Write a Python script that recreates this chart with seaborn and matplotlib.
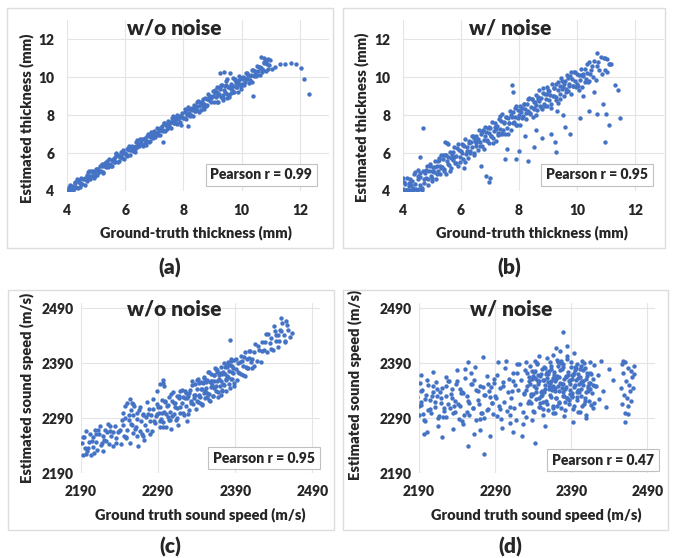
import pandas as pd
import seaborn as sns
import matplotlib.pyplot as plt
from matplotlib.patches import Rectangle

# (a) thickness, w/o noise  (ground truth -> estimate, mm)
a_x = [4.01, 4.04, 4.09, 4.11, 4.16, 4.19, 4.23, 4.27, 4.29, 4.34, 4.38, 4.41, 4.44, 4.49, 4.52, 4.55, 4.61, 4.63, 4.67, 4.71,
       4.74, 4.79, 4.81, 4.85, 4.88, 4.93, 4.95, 4.99, 4.47, 4.72,
       5.02, 5.06, 5.08, 5.13, 5.17, 5.2, 5.24, 5.27, 5.31, 5.35, 5.37, 5.42, 5.45, 5.48, 5.53, 5.56, 5.59, 5.64, 5.66, 5.7,
       5.74, 5.77, 5.82, 5.84, 5.88, 5.92, 5.96, 5.99, 5.3, 5.61,
       6.01, 6.05, 6.07, 6.12, 6.14, 6.19, 6.23, 6.26, 6.3, 6.33, 6.38, 6.41, 6.43, 6.48, 6.51, 6.55, 6.58, 6.62, 6.65, 6.69,
       6.73, 6.76, 6.8, 6.83, 6.87, 6.9, 6.94, 6.97, 6.36, 6.71,
       7.02, 7.04, 7.08, 7.12, 7.15, 7.18, 7.22, 7.25, 7.29, 7.32, 7.36, 7.39, 7.42, 7.47, 7.49, 7.53, 7.57, 7.6, 7.63, 7.68,
       7.71, 7.75, 7.78, 7.81, 7.85, 7.89, 7.91, 7.96, 7.3, 7.65,
       8.01, 8.04, 8.08, 8.11, 8.15, 8.19, 8.21, 8.26, 8.28, 8.33, 8.36, 8.39, 8.43, 8.46, 8.5, 8.53, 8.57, 8.6, 8.64, 8.67,
       8.71, 8.74, 8.78, 8.82, 8.85, 8.88, 8.92, 8.96, 8.4, 8.7,
       9.02, 9.05, 9.09, 9.12, 9.16, 9.19, 9.22, 9.27, 9.29, 9.33, 9.37, 9.4, 9.43, 9.47, 9.51, 9.54, 9.57, 9.61, 9.64, 9.68,
       9.71, 9.75, 9.78, 9.82, 9.85, 9.89, 9.92, 9.96, 9.99, 9.3, 9.55, 9.8,
       10.01, 10.05, 10.08, 10.12, 10.16, 10.19, 10.23, 10.27, 10.3, 10.34, 10.37, 10.41, 10.45, 10.48, 10.52, 10.56,
       10.59, 10.63, 10.67, 10.7, 10.74, 10.78, 10.82, 10.86, 10.9, 10.95, 10.99,
       7.3, 7.9, 8.16, 9.25, 9.4, 9.6, 9.5, 9.15, 9.45, 9.7, 9.9, 9.35, 9.65, 10.65, 10.75, 10.85, 10.4, 11.05, 11.15,
       11.3, 11.5, 11.7, 11.85, 12.05, 12.15, 12.3]
a_y = [4.06, 4.02, 4.31, 4.07, 4.28, 4.01, 4.23, 4.44, 4.18, 4.62, 4.18, 4.49, 4.42, 4.69, 4.38, 4.65, 4.34, 4.66, 4.82, 4.63,
       4.79, 4.61, 5.03, 4.81, 5.0, 4.68, 4.95, 5.16, 4.36, 5.0,
       4.82, 5.14, 5.06, 5.33, 5.03, 5.3, 4.97, 5.3, 5.46, 5.27, 5.42, 5.24, 5.67, 5.44, 5.65, 5.31, 5.59, 5.81, 5.55, 5.98,
       5.54, 5.85, 5.8, 6.04, 5.74, 6.02, 5.69, 6.02, 5.45, 5.53,
       5.91, 6.21, 5.85, 6.18, 6.39, 6.14, 6.35, 6.09, 6.32, 6.05, 6.57, 6.32, 6.52, 6.35, 6.75, 6.54, 6.72, 6.39, 6.72, 6.54,
       6.63, 6.92, 6.58, 6.89, 7.12, 6.85, 7.06, 6.8, 6.38, 6.43,
       7.07, 6.86, 7.3, 7.08, 7.27, 6.93, 7.22, 7.42, 7.18, 7.6, 7.16, 7.47, 7.4, 7.67, 7.35, 7.63, 7.3, 7.63, 7.78, 7.6,
       7.76, 7.57, 8.0, 7.77, 7.97, 7.64, 7.91, 8.13, 7.19, 7.93,
       7.84, 8.18, 7.77, 8.13, 8.4, 8.08, 8.3, 8.01, 8.25, 7.94, 8.54, 8.23, 8.49, 8.25, 8.74, 8.47, 8.69, 8.27, 8.67, 8.44,
       8.54, 8.88, 8.47, 8.84, 9.1, 8.77, 9.01, 8.71, 8.37, 8.31,
       9.0, 8.67, 9.3, 8.94, 9.21, 8.67, 9.08, 9.38, 8.96, 9.58, 8.9, 9.34, 9.21, 9.58, 9.1, 9.48, 8.96, 9.44, 9.64, 9.32,
       9.55, 9.23, 9.85, 9.5, 9.76, 9.23, 9.64, 9.93, 9.52, 9.56, 9.04, 9.66,
       9.64, 9.99, 9.57, 9.94, 10.21, 9.88, 10.12, 9.82, 10.07, 9.75, 10.35, 10.05, 10.31, 10.07, 10.56, 10.3,
       10.51, 10.1, 10.5, 10.27, 10.37, 10.72, 10.31, 10.68, 10.95, 10.64, 10.88,
       6.6, 7.45, 7.42, 10.2, 10.25, 10.2, 9.9, 9.45, 9.8, 9.95, 10.05, 8.8, 9.15, 11.05, 11.0, 10.9, 9.0, 10.4, 10.55,
       10.7, 10.7, 10.72, 10.68, 10.5, 9.9, 9.1]
a_x2 = [4.06, 4.13, 4.2, 4.26, 4.31, 4.4, 4.45, 4.58, 4.65, 4.69, 4.77, 4.83, 4.91, 4.97, 5.04, 5.11, 5.19, 5.23, 5.33, 5.39,
        5.44, 5.5, 5.57, 5.63, 5.69, 5.76, 5.8, 5.86, 5.94, 6.03, 6.1, 6.17, 6.22, 6.29, 6.35, 6.42, 6.46, 6.53, 6.6, 6.67,
        6.74, 6.78, 6.85, 6.92, 6.99, 7.06, 7.13, 7.2, 7.24, 7.34, 7.4, 7.45, 7.51, 7.59, 7.66, 7.73, 7.77, 7.84, 7.93, 7.99,
        8.06, 8.13, 8.17, 8.24, 8.31, 8.38, 8.45, 8.52, 8.59, 8.66, 8.72, 8.8, 8.87, 8.94, 9.0, 9.07, 9.14, 9.2, 9.25, 9.35,
        9.42, 9.49, 9.56, 9.63, 9.69, 9.76, 9.84, 9.9, 9.97, 10.04, 10.1, 10.18, 10.25, 10.32, 10.4, 10.47, 10.54, 10.62,
        10.69, 10.76, 10.84, 10.92]
a_y2 = [4.19, 4.03, 4.18, 4.5, 4.22, 4.58, 4.19, 4.65, 4.66, 4.54, 5.04, 4.78, 5.07, 4.78, 5.14, 5.0, 5.41, 4.99, 5.37, 5.58,
        5.37, 5.33, 5.69, 5.62, 5.94, 5.89, 5.59, 5.84, 6.18, 5.94, 6.28, 5.91, 6.29, 6.3, 6.2, 6.69, 6.41, 6.69, 6.41, 6.77,
        6.63, 7.0, 6.61, 6.96, 7.18, 6.99, 6.96, 7.32, 7.23, 7.59, 7.53, 7.24, 7.49, 7.83, 7.57, 7.91, 7.51, 7.91, 7.94, 7.84,
        8.33, 8.02, 8.31, 7.96, 8.38, 8.2, 8.66, 8.18, 8.59, 8.84, 8.59, 8.55, 8.96, 8.88, 9.28, 9.16, 8.69, 9.03, 9.46, 9.04,
        9.51, 8.9, 9.46, 9.42, 9.22, 9.92, 9.49, 9.86, 9.39, 9.91, 9.72, 10.19, 9.71, 10.12, 10.38, 10.14, 10.09, 10.51,
        10.43, 10.81, 10.75, 10.42]

# (b) thickness, w/ noise
b_x = [4.01, 4.04, 4.07, 4.12, 4.14, 4.18, 4.22, 4.25, 4.28, 4.32, 4.36, 4.39, 4.42, 4.46, 4.5, 4.53, 4.57, 4.6, 4.64, 4.68,
       4.71, 4.75, 4.78, 4.82, 4.85, 4.89, 4.92, 4.96, 4.99, 4.55, 4.0, 4.7, 4.6,
       5.01, 5.03, 5.07, 5.1, 5.13, 5.16, 5.2, 5.22, 5.26, 5.29, 5.32, 5.35, 5.39, 5.41, 5.45, 5.48, 5.51, 5.54, 5.58, 5.61,
       5.64, 5.67, 5.71, 5.74, 5.77, 5.8, 5.84, 5.87, 5.9, 5.94, 5.97, 5.25, 5.5, 5.55, 5.45,
       6.02, 6.05, 6.08, 6.11, 6.15, 6.18, 6.21, 6.25, 6.27, 6.31, 6.34, 6.37, 6.4, 6.44, 6.47, 6.5, 6.53, 6.56, 6.6, 6.63,
       6.66, 6.69, 6.73, 6.76, 6.79, 6.82, 6.86, 6.89, 6.92, 6.95, 6.98, 6.45, 6.85, 6.95, 7.0, 6.7, 6.1,
       7.01, 7.04, 7.07, 7.1, 7.14, 7.17, 7.2, 7.23, 7.27, 7.3, 7.33, 7.36, 7.39, 7.43, 7.46, 7.49, 7.52, 7.56, 7.59, 7.62,
       7.65, 7.69, 7.72, 7.75, 7.78, 7.82, 7.85, 7.88, 7.91, 7.95, 7.98, 7.4, 7.75, 7.78, 7.5, 7.6, 7.9,
       8.02, 8.05, 8.08, 8.11, 8.15, 8.18, 8.21, 8.24, 8.28, 8.31, 8.34, 8.37, 8.4, 8.44, 8.47, 8.5, 8.53, 8.57, 8.6, 8.63,
       8.66, 8.7, 8.73, 8.76, 8.79, 8.83, 8.86, 8.89, 8.92, 8.95, 8.98, 8.55, 8.0, 8.3, 8.5, 8.8, 8.2, 8.6,
       9.01, 9.05, 9.08, 9.12, 9.15, 9.19, 9.22, 9.26, 9.29, 9.33, 9.36, 9.4, 9.43, 9.47, 9.5, 9.54, 9.57, 9.61, 9.64, 9.68,
       9.71, 9.75, 9.78, 9.82, 9.85, 9.89, 9.92, 9.96, 9.99, 9.45, 9.1, 9.24, 9.28, 9.6, 9.75, 9.3, 9.5,
       10.02, 10.06, 10.1, 10.14, 10.18, 10.22, 10.26, 10.3, 10.34, 10.38, 10.42, 10.46, 10.5, 10.55, 10.6, 10.64,
       10.68, 10.72, 10.77, 10.82, 10.87, 10.92, 10.97, 11.03, 11.1, 11.18,
       10.7, 11.3, 11.4, 11.48, 10.97, 11.1, 11.0, 10.7, 10.4, 10.1, 10.2, 10.6, 10.9, 11.15, 11.05, 10.95]
b_y = [4.11, 4.04, 4.39, 4.03, 4.69, 4.06, 4.24, 4.65, 4.05, 4.52, 4.16, 4.87, 4.37, 4.08, 4.77, 5.13, 4.32, 4.72, 4.14, 5.03,
       4.41, 4.97, 4.7, 5.32, 4.33, 5.04, 5.3, 4.78, 5.04, 4.13, 4.7, 7.3, 5.8,
       4.71, 5.25, 4.99, 5.6, 4.61, 5.31, 5.58, 5.04, 5.31, 4.87, 5.9, 5.25, 5.69, 5.06, 5.9, 4.88, 5.59, 5.79, 5.36, 6.03,
       5.74, 5.22, 6.03, 5.62, 6.32, 5.5, 5.86, 6.27, 5.32, 6.14, 5.77, 5.73, 6.55, 6.45, 6.6,
       6.5, 6.0, 5.7, 6.38, 6.75, 5.93, 6.33, 5.75, 6.62, 6.01, 6.56, 6.29, 6.9, 5.92, 6.62, 6.88, 6.35, 6.61, 6.18, 7.21,
       6.56, 6.99, 6.38, 7.21, 6.19, 6.9, 7.11, 6.67, 7.34, 7.05, 6.53, 6.77, 4.8, 4.5, 4.7, 5.3, 5.2,
       7.33, 6.92, 7.62, 6.8, 7.16, 7.57, 6.62, 7.43, 7.07, 7.78, 7.28, 6.98, 7.66, 8.03, 7.21, 7.61, 7.02, 7.91, 7.29, 7.84,
       7.57, 8.19, 7.2, 7.9, 8.16, 7.64, 7.9, 7.46, 8.49, 7.85, 8.28, 7.05, 9.6, 9.2, 5.7, 6.2, 5.7,
       8.47, 7.45, 8.16, 8.36, 7.93, 8.6, 8.31, 7.79, 8.6, 8.19, 8.89, 8.07, 8.42, 8.84, 7.89, 8.7, 8.33, 9.05, 8.55, 8.25,
       8.93, 9.3, 8.48, 8.88, 8.29, 9.18, 8.56, 9.11, 8.84, 9.45, 8.46, 8.7, 6.1, 5.6, 6.3, 6.8, 6.9, 7.2,
       9.29, 8.77, 9.03, 8.6, 9.63, 8.99, 9.42, 8.81, 9.64, 8.63, 9.34, 9.55, 9.11, 9.79, 9.5, 8.99, 9.79, 9.39, 10.09, 9.28,
       9.63, 10.05, 9.1, 9.92, 9.55, 10.27, 9.77, 9.48, 10.16, 9.95, 7.0, 6.6, 6.05, 7.35, 7.0, 8.2, 8.0,
       9.52, 10.08, 9.82, 10.44, 9.46, 10.17, 10.44, 9.92, 10.19, 9.76, 10.8, 10.16, 10.6, 10.0, 10.85, 9.84,
       10.56, 10.77, 10.35, 11.04, 10.17, 11.02, 10.37, 10.93, 10.7, 10.68,
       11.25, 9.6, 9.3, 7.84, 6.58, 7.5, 8.05, 8.05, 8.2, 7.85, 9.0, 9.2, 8.6, 10.7, 10.25, 11.0]
b_x2 = [4.05, 4.1, 4.16, 4.21, 4.27, 4.34, 4.41, 4.47, 4.52, 4.59, 4.66, 4.73, 4.8, 4.87, 4.93, 5.0, 5.05, 5.11, 5.18, 5.24,
        5.31, 5.37, 5.43, 5.49, 5.56, 5.62, 5.68, 5.75, 5.82, 5.88, 5.95, 6.01, 6.07, 6.13, 6.2, 6.26, 6.32, 6.39, 6.46, 6.52,
        6.58, 6.65, 6.71, 6.78, 6.84, 6.91, 6.97, 7.03, 7.09, 7.16, 7.22, 7.29, 7.35, 7.41, 7.48, 7.54, 7.61, 7.67, 7.74, 7.8,
        7.86, 7.93, 7.99, 8.05, 8.12, 8.18, 8.25, 8.31, 8.38, 8.44, 8.51, 8.57, 8.64, 8.7, 8.77, 8.83, 8.9, 8.96, 9.03, 9.09,
        9.16, 9.22, 9.29, 9.35, 9.42, 9.48, 9.55, 9.61, 9.68, 9.74, 9.81, 9.87, 9.94, 10.0, 10.07, 10.13, 10.2, 10.27, 10.33,
        10.4, 10.47]
b_y2 = [4.47, 4.03, 4.06, 4.41, 4.32, 4.04, 4.99, 4.07, 4.64, 4.94, 4.06, 4.65, 5.08, 4.65, 5.43, 4.53, 5.05, 5.27, 4.88, 5.62,
        5.19, 5.91, 5.17, 5.91, 5.41, 5.07, 5.88, 5.8, 5.49, 6.46, 5.55, 6.13, 6.42, 5.53, 6.12, 6.54, 6.1, 6.89, 5.99, 6.52,
        6.74, 6.35, 7.09, 6.66, 7.38, 6.65, 7.39, 6.88, 6.54, 7.36, 7.27, 6.96, 7.93, 7.01, 7.6, 7.89, 7.01, 7.59, 8.02, 7.58,
        8.36, 7.46, 7.99, 8.21, 7.82, 8.56, 8.13, 8.85, 8.12, 8.86, 8.36, 8.02, 8.84, 8.75, 8.44, 9.41, 8.5, 9.08, 9.28, 8.39,
        8.98, 9.4, 8.97, 9.75, 8.85, 9.38, 9.61, 9.21, 9.96, 9.52, 10.25, 9.51, 10.26, 9.65, 9.32, 10.13, 10.05, 9.74, 10.71,
        9.8, 10.39]

# (c) sound speed, w/o noise (m/s)
c_x = [2191, 2192, 2194, 2195, 2197, 2198, 2200, 2202, 2203, 2205, 2206, 2208, 2210, 2211, 2213, 2214, 2216, 2218,
       2219, 2221, 2222, 2224, 2226, 2227, 2229, 2231, 2232, 2234, 2236, 2238, 2239, 2196, 2209, 2217, 2225,
       2241, 2242, 2244, 2246, 2247, 2249, 2250, 2252, 2254, 2255, 2257, 2258, 2260, 2262, 2263, 2265, 2266, 2268,
       2270, 2271, 2273, 2274, 2276, 2278, 2279, 2281, 2282, 2284, 2286, 2287, 2289, 2253, 2256, 2259, 2264, 2272,
       2280, 2288,
       2291, 2292, 2293, 2294, 2295, 2296, 2298, 2299, 2300, 2301, 2303, 2304, 2305, 2306, 2308, 2309, 2310, 2312,
       2313, 2314, 2315, 2317, 2318, 2319, 2321, 2322, 2323, 2325, 2326, 2327, 2329, 2330, 2331, 2333, 2334, 2335,
       2337, 2338, 2339, 2297, 2296, 2298, 2307, 2316, 2328,
       2340, 2341, 2342, 2343, 2344, 2345, 2346, 2347, 2348, 2349, 2350, 2351, 2352, 2353, 2354, 2355, 2356, 2357,
       2358, 2359, 2360, 2361, 2362, 2363, 2364, 2365, 2366, 2367, 2368, 2369, 2370, 2371, 2372, 2373, 2374, 2375,
       2376, 2377, 2378, 2379, 2380, 2381, 2382, 2383, 2384, 2385, 2386, 2387, 2388, 2389, 2343, 2351, 2357, 2362,
       2367, 2373, 2378, 2384, 2387, 2383,
       2391, 2392, 2394, 2395, 2397, 2398, 2400, 2401, 2403, 2405, 2406, 2408, 2410, 2412, 2414, 2416, 2418, 2421,
       2423, 2425, 2427, 2429, 2431, 2433, 2435, 2437, 2439, 2441, 2443, 2445, 2447, 2449, 2451, 2453, 2455, 2457,
       2459, 2461, 2464, 2399, 2404, 2409, 2450, 2456, 2440, 2446]
c_y = [2245, 2222, 2255, 2235, 2266, 2231, 2246, 2262, 2222, 2255, 2237, 2268, 2247, 2232, 2261, 2275, 2241, 2258,
       2231, 2268, 2249, 2265, 2242, 2276, 2257, 2265, 2239, 2276, 2253, 2264, 2267, 2224, 2262, 2245, 2279,
       2268, 2242, 2278, 2258, 2291, 2254, 2269, 2287, 2245, 2280, 2263, 2295, 2271, 2258, 2288, 2304, 2266, 2284,
       2258, 2297, 2277, 2293, 2268, 2307, 2285, 2295, 2266, 2306, 2282, 2294, 2297, 2325, 2318, 2312, 2240, 2250,
       2262, 2315,
       2300, 2273, 2310, 2288, 2324, 2283, 2301, 2320, 2273, 2312, 2293, 2329, 2302, 2286, 2321, 2337, 2297, 2317,
       2287, 2330, 2308, 2326, 2299, 2339, 2318, 2328, 2296, 2340, 2313, 2327, 2331, 2304, 2342, 2321, 2357, 2315,
       2333, 2353, 2306, 2360, 2355, 2348, 2270, 2278, 2285,
       2321, 2344, 2362, 2333, 2317, 2356, 2344, 2314, 2354, 2335, 2365, 2326, 2345, 2359, 2336, 2374, 2324, 2356,
       2346, 2370, 2357, 2330, 2368, 2345, 2381, 2340, 2357, 2377, 2329, 2368, 2348, 2384, 2358, 2341, 2375, 2391,
       2351, 2371, 2340, 2383, 2387, 2365, 2376, 2345, 2397, 2361, 2386, 2373, 2355, 2396, 2330, 2357, 2322, 2357,
       2374, 2340, 2361, 2395, 2381, 2432,
       2380, 2359, 2391, 2373, 2403, 2371, 2386, 2401, 2366, 2398, 2382, 2412, 2393, 2382, 2410, 2425, 2395, 2414,
       2392, 2428, 2414, 2429, 2410, 2443, 2427, 2437, 2414, 2449, 2430, 2442, 2430, 2449, 2463, 2441, 2428, 2459,
       2450, 2438, 2445, 2394, 2383, 2412, 2472, 2468, 2458, 2420]
c_x2 = [2193, 2199, 2204, 2207, 2212, 2220, 2228, 2235, 2243, 2248, 2256, 2261, 2269, 2277, 2285,
        2290.5, 2292.5, 2294.5, 2296.5, 2298.5, 2300.5, 2302.5, 2304.5, 2306.5, 2308.5, 2310.5, 2312.5, 2314.5, 2316.5,
        2318.5, 2320.5, 2322.5, 2324.5, 2326.5, 2328.5, 2330.5, 2332.5, 2334.5, 2336.5, 2338.5, 2340.5, 2341.5, 2343.5,
        2344.5, 2346.5, 2347.5, 2349.5, 2350.5, 2352.5, 2353.5, 2355.5, 2356.5, 2358.5, 2359.5, 2361.5, 2362.5, 2364.5,
        2365.5, 2367.5, 2368.5, 2370.5, 2371.5, 2373.5, 2374.5, 2376.5, 2377.5, 2379.5, 2380.5, 2382.5, 2383.5, 2385.5,
        2386.5, 2388.5, 2390.5, 2393.5, 2396.5, 2399.5, 2402.5, 2405.5, 2408.5, 2411.5, 2414.5, 2419.5, 2424.5, 2430.5,
        2436.5, 2442.5, 2448.5, 2454.5,
        2247, 2250, 2255, 2258, 2262, 2266, 2270, 2244, 2252, 2276, 2283, 2288, 2292]
c_y2 = [2255, 2236, 2248, 2226, 2268, 2250, 2267, 2244, 2287, 2255, 2278, 2274, 2261, 2298, 2284,
        2310, 2285, 2300, 2273, 2321, 2298, 2314, 2287, 2334, 2294, 2317, 2311, 2291, 2330,
        2310, 2342, 2300, 2326, 2336, 2297, 2335, 2317, 2350, 2326, 2333, 2360, 2319, 2355,
        2329, 2343, 2316, 2364, 2339, 2356, 2328, 2374, 2334, 2357, 2350, 2330, 2368, 2348,
        2379, 2337, 2362, 2372, 2332, 2370, 2352, 2384, 2359, 2367, 2392, 2352, 2387, 2361,
        2375, 2349, 2397, 2375, 2393, 2368, 2410, 2381, 2400, 2398, 2386, 2422, 2412, 2444,
        2416, 2441, 2451, 2430,
        2312, 2318, 2305, 2315, 2300, 2310, 2296, 2300, 2296, 2320, 2325, 2340, 2352]

# (d) sound speed, w/ noise
d_x = [2188, 2190, 2191, 2193, 2194, 2196, 2199, 2200, 2202, 2205, 2206, 2209, 2211, 2212, 2215, 2217, 2219, 2220,
       2223, 2225, 2226, 2229, 2231, 2233, 2234, 2237, 2239, 2241, 2242, 2245,
       2247, 2248, 2251, 2253, 2255, 2256, 2259, 2261, 2262, 2265, 2267, 2269, 2270, 2273, 2275, 2276, 2279, 2281,
       2283, 2284, 2287, 2289, 2192, 2198, 2208, 2214, 2222, 2228, 2236, 2244,
       2250, 2258, 2264, 2272, 2280, 2286,
       2197, 2200, 2192, 2215, 2225, 2235, 2254, 2275, 2254, 2274, 2262, 2248, 2270, 2283, 2208, 2240, 2220,
       2290, 2292, 2293, 2295, 2297, 2298, 2300, 2302, 2303, 2305, 2307, 2308, 2310, 2311, 2313, 2315, 2316, 2318,
       2320, 2321, 2323, 2324, 2326, 2328, 2329, 2331, 2332, 2334, 2335, 2294, 2299, 2304, 2309, 2314, 2319, 2325,
       2330, 2296, 2312, 2327,
       2336, 2337, 2339, 2340, 2341, 2343, 2344, 2345, 2347, 2348, 2349, 2350, 2352, 2353, 2354, 2356, 2357, 2358,
       2359, 2361, 2362, 2363, 2364, 2366, 2367, 2368, 2369, 2371, 2372, 2373, 2374, 2375, 2377, 2378, 2379, 2380,
       2381, 2382, 2384, 2385, 2386, 2387, 2388, 2390, 2391, 2392, 2393, 2394, 2396, 2397, 2398, 2399, 2401, 2402,
       2403, 2405, 2406, 2407, 2409, 2410, 2411, 2413, 2414, 2415, 2417, 2418, 2419, 2421, 2338, 2342,
       2346, 2351, 2355, 2360, 2365, 2370, 2376, 2383, 2389, 2395, 2400, 2404, 2408, 2412, 2416, 2420, 2344, 2353,
       2363, 2371, 2379, 2385, 2391, 2397, 2403, 2409, 2358, 2366, 2374, 2382,
       2379, 2366, 2370, 2375, 2384, 2348, 2342, 2356, 2392, 2410, 2340, 2350, 2361, 2369, 2378, 2388, 2399, 2406,
       2415, 2394,
       2423, 2425, 2427, 2429, 2432, 2436, 2440, 2445, 2455, 2456, 2457, 2458, 2459, 2460, 2461, 2462, 2463, 2464,
       2465, 2466, 2467, 2468, 2469, 2470, 2471, 2472, 2473, 2461, 2458, 2465]
d_y = [2328, 2295, 2354, 2314, 2341, 2286, 2333, 2360, 2305, 2324, 2299, 2349, 2311, 2356, 2290, 2337, 2318, 2345,
       2303, 2330, 2293, 2358, 2309, 2326, 2343, 2301, 2352, 2316, 2288, 2335,
       2284, 2336, 2363, 2302, 2321, 2296, 2352, 2308, 2359, 2287, 2340, 2315, 2348, 2300, 2333, 2291, 2366, 2306,
       2329, 2346, 2298, 2355, 2319, 2285, 2338, 2331, 2292, 2357, 2312, 2344,
       2380, 2372, 2383, 2300, 2352, 2318,
       2262, 2265, 2368, 2275, 2365, 2270, 2239, 2225, 2393, 2401, 2262, 2280, 2268, 2258, 2375, 2378, 2255,
       2330, 2294, 2368, 2312, 2345, 2288, 2356, 2320, 2381, 2303, 2338, 2362, 2296, 2327, 2372, 2309, 2350, 2286,
       2341, 2388, 2316, 2359, 2301, 2334, 2377, 2292, 2348, 2322, 2365, 2392, 2272, 2395, 2282, 2265, 2388, 2258,
       2392, 2306, 2340, 2280,
       2352, 2318, 2376, 2334, 2301, 2363, 2345, 2389, 2326, 2358, 2310, 2371, 2339, 2296, 2383, 2350, 2322, 2364,
       2304, 2343, 2392, 2329, 2357, 2313, 2375, 2340, 2299, 2366, 2348, 2386, 2320, 2355, 2308, 2379, 2337, 2361,
       2294, 2344, 2398, 2327, 2369, 2315, 2352, 2384, 2331, 2306, 2373, 2346, 2360, 2323, 2389, 2342, 2301, 2365,
       2330, 2378, 2351, 2316, 2362, 2338, 2372, 2322, 2355, 2392, 2336, 2361, 2308, 2348, 2287, 2395,
       2368, 2333, 2381, 2356, 2347, 2327, 2390, 2366, 2341, 2377, 2353, 2395, 2326, 2345, 2371, 2318, 2338, 2360,
       2380, 2312, 2352, 2403, 2362, 2337, 2385, 2296, 2374, 2300, 2365, 2319,
       2448, 2405, 2418, 2412, 2422, 2403, 2245, 2275, 2283, 2290, 2367, 2330, 2349, 2358, 2345, 2334, 2370, 2357,
       2343, 2408,
       2348, 2368, 2325, 2395, 2340, 2310, 2379, 2360, 2345, 2388, 2316, 2372, 2333, 2392, 2300, 2357, 2326, 2381,
       2312, 2350, 2339, 2376, 2322, 2365, 2345, 2385, 2370, 2283, 2395, 2298]
d_x2 = [2330.5, 2331.5, 2333.5, 2334.5, 2335.5, 2337.5, 2338.5, 2339.5, 2341.5, 2342.5,
        2343.5, 2345.5, 2346.5, 2347.5, 2349.5, 2350.5, 2351.5, 2353.5, 2354.5, 2355.5,
        2357.5, 2358.5, 2359.5, 2361.5, 2362.5, 2363.5, 2365.5, 2366.5, 2367.5, 2369.5,
        2370.5, 2371.5, 2373.5, 2374.5, 2375.5, 2377.5, 2378.5, 2379.5, 2381.5, 2382.5,
        2383.5, 2385.5, 2386.5, 2387.5, 2389.5, 2390.5, 2391.5, 2393.5, 2394.5, 2395.5,
        2397.5, 2398.5, 2399.5, 2401.5, 2402.5, 2404.5, 2406.5, 2408.5, 2410.5, 2412.5,
        2414.5, 2416.5, 2418.5, 2420.5, 2336.5, 2344.5, 2352.5, 2360.5, 2368.5, 2376.5,
        2384.5, 2392.5, 2400.5, 2407.5, 2413.5, 2348.5, 2356.5, 2364.5, 2372.5, 2380.5,
        2388.5, 2396.5, 2403.5, 2411.5, 2340.5, 2354.5, 2366.5, 2378.5, 2390.5, 2402.5,
        2189.5, 2192.5, 2195.5, 2198.5, 2201.5, 2204.5, 2207.5, 2210.5, 2213.5, 2216.5,
        2219.5, 2222.5, 2225.5, 2228.5, 2231.5, 2234.5, 2237.5, 2240.5, 2243.5, 2246.5,
        2249.5, 2252.5, 2255.5, 2258.5, 2261.5, 2264.5, 2267.5, 2270.5, 2273.5, 2276.5,
        2279.5, 2282.5, 2285.5, 2288.5, 2291.5, 2300.5, 2309.5, 2318.5, 2327.5, 2313.5]
d_y2 = [2341, 2372, 2318, 2357, 2385, 2330, 2362, 2303, 2348, 2376,
        2325, 2391, 2352, 2311, 2367, 2338, 2380, 2320, 2359, 2344,
        2399, 2315, 2371, 2333, 2354, 2386, 2309, 2349, 2368, 2327,
        2361, 2396, 2340, 2317, 2378, 2353, 2331, 2388, 2305, 2365,
        2346, 2374, 2323, 2358, 2393, 2336, 2369, 2312, 2350, 2383,
        2329, 2364, 2302, 2379, 2343, 2357, 2390, 2321, 2366, 2339,
        2373, 2314, 2351, 2387, 2334, 2360, 2307, 2376, 2345, 2395,
        2326, 2368, 2337, 2382, 2355, 2318, 2370, 2342, 2393, 2331,
        2359, 2381, 2313, 2349, 2375, 2338, 2363, 2384, 2328, 2356,
        2312, 2339, 2298, 2325, 2351, 2306, 2330, 2319, 2344, 2294,
        2327, 2309, 2348, 2316, 2334, 2300, 2322, 2357, 2313, 2338,
        2296, 2331, 2317, 2352, 2308, 2342, 2323, 2289, 2346, 2333,
        2304, 2340, 2318, 2361, 2326, 2349, 2311, 2372, 2336, 2358]

thick_ticks = [4, 6, 8, 10, 12]
speed_ticks = [2190, 2290, 2390, 2490]
titles = ['w/o noise', 'w/ noise', 'w/o noise', 'w/ noise']
pearson = ['Pearson r = 0.99', 'Pearson r = 0.95', 'Pearson r = 0.95', 'Pearson r = 0.47']
tags = ['(a)', '(b)', '(c)', '(d)']

sns.set_style('whitegrid', {'grid.color': '#e4e4e4'})
plt.rcParams['font.family'] = ['Lato', 'DejaVu Sans']

W, H = 673, 558
fig = plt.figure(figsize=(6.73, 5.58), dpi=100)

# pixel layout: axes box (left, top, right, bottom), outer frame, tag centre
layout = [
    dict(ax=(67, 20, 329, 191), frame=(7, 8, 333, 248), tag=(170, 268), lim=(4, 13), pad=9,
         tpos=(0.408, 0.953), rpos=(0.742, 0.094), xl=(0.492, -0.246), yl=(-0.153, 0.427)),
    dict(ax=(403, 20, 664, 191), frame=(343, 8, 665, 248), tag=(509, 268), lim=(4, 13), pad=9,
         tpos=(0.41, 0.953), rpos=(0.743, 0.094), xl=(0.494, -0.246), yl=(-0.157, 0.433)),
    dict(ax=(81, 303, 320, 473), frame=(8, 290, 334, 530), tag=(170, 547), lim=(2190, 2500), pad=5,
         tpos=(0.389, 0.965), rpos=(0.766, 0.088), xl=(0.498, -0.247), yl=(-0.226, 0.5)),
    dict(ax=(419, 303, 655, 473), frame=(343, 290, 668, 530), tag=(510, 547), lim=(2190, 2500), pad=5,
         tpos=(0.39, 0.965), rpos=(0.78, 0.076), xl=(0.496, -0.247), yl=(-0.271, 0.52)),
]
series = [(a_x + a_x2, a_y + a_y2), (b_x + b_x2, b_y + b_y2),
          (c_x + c_x2, c_y + c_y2), (d_x + d_x2, d_y + d_y2)]

for i, (lay, (xs, ys)) in enumerate(zip(layout, series)):
    l, t, r, b = lay['ax']
    ax = fig.add_axes([l / W, 1 - b / H, (r - l) / W, (b - t) / H])
    df = pd.DataFrame({'gt': xs, 'est': ys})
    sns.scatterplot(data=df, x='gt', y='est', ax=ax, color='#4472C4', s=10, linewidth=0)
    ax.set_xlim(*lay['lim'])
    ax.set_ylim(*lay['lim'])
    ticks = thick_ticks if i < 2 else speed_ticks
    ax.set_xticks(ticks, labels=[str(v) for v in ticks], fontweight='heavy', fontsize=10)
    ax.set_yticks(ticks, labels=[str(v) for v in ticks], fontweight='heavy', fontsize=10)
    ax.tick_params(axis='x', length=0, pad=9)
    ax.tick_params(axis='y', length=0, pad=lay['pad'])
    for s in ax.spines.values():
        s.set_visible(False)
    ax.grid(True, color='#e4e4e4', linewidth=0.8)

    if i < 2:
        xlab, ylab = 'Ground-truth thickness (mm)', 'Estimated thickness (mm)'
    else:
        xlab, ylab = 'Ground truth sound speed (m/s)', 'Estimated sound speed (m/s)'
    ax.set_xlabel(xlab, fontsize=10.5, fontweight='heavy', va='center')
    ax.set_ylabel(ylab, fontsize=10.5, fontweight='heavy', va='center')
    ax.xaxis.set_label_coords(*lay['xl'])
    ax.yaxis.set_label_coords(*lay['yl'])

    ax.text(*lay['tpos'], titles[i], transform=ax.transAxes, ha='center', va='center',
            fontsize=15, fontweight='heavy')
    ax.text(*lay['rpos'], pearson[i], transform=ax.transAxes, ha='center', va='center',
            fontsize=10, fontweight='heavy',
            bbox=dict(boxstyle='square,pad=0.35', fc='white', ec='#c0c0c0', lw=0.8))

    x0, y0, x1, y1 = lay['frame']
    fig.add_artist(Rectangle((x0 / W, 1 - y1 / H), (x1 - x0) / W, (y1 - y0) / H,
                             transform=fig.transFigure, fill=False, ec='#dcdcdc', lw=1))
    fig.text(lay['tag'][0] / W, 1 - lay['tag'][1] / H, tags[i], ha='center', va='center',
             fontsize=15, fontweight='heavy')

fig.savefig('out.png', dpi=100)
